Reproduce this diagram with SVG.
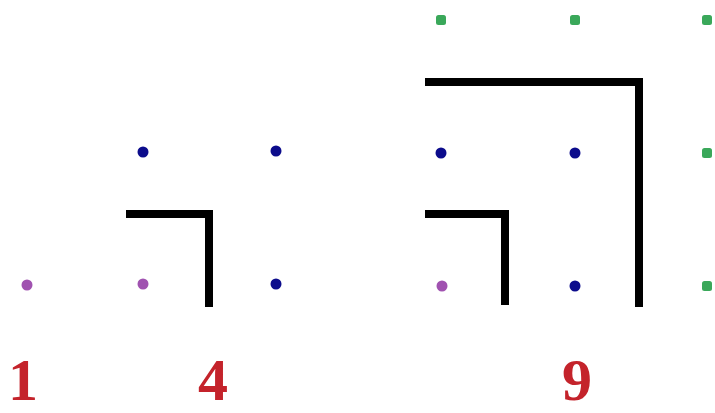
<svg xmlns="http://www.w3.org/2000/svg" width="715" height="413" viewBox="0 0 715 413">
<style>
.p{fill:#a052b0}
.b{fill:#0c0c8c}
.g{fill:#3aa85a}
.l{fill:none;stroke:#000;stroke-width:8;stroke-linecap:butt;stroke-linejoin:miter}
.t{font-family:"Liberation Serif",serif;font-size:60px;font-weight:bold;fill:#c4232b;text-anchor:middle}
</style>
<rect width="715" height="413" fill="#fff"/>
<g id="dots">
<circle class="p" cx="27" cy="285" r="5.5"/>
<circle class="p" cx="143" cy="284" r="5.5"/>
<circle class="p" cx="442" cy="286" r="5.5"/>
<circle class="b" cx="143" cy="152" r="5.5"/>
<circle class="b" cx="276" cy="151" r="5.5"/>
<circle class="b" cx="276" cy="284" r="5.5"/>
<circle class="b" cx="441" cy="153" r="5.5"/>
<circle class="b" cx="575" cy="153" r="5.5"/>
<circle class="b" cx="575" cy="286" r="5.5"/>
<rect class="g" x="436" y="15" width="10" height="10" rx="2.5"/>
<rect class="g" x="570" y="15" width="10" height="10" rx="2.5"/>
<rect class="g" x="702" y="15" width="10" height="10" rx="2.5"/>
<rect class="g" x="702" y="148" width="10" height="10" rx="2.5"/>
<rect class="g" x="702" y="281" width="10" height="10" rx="2.5"/>
</g>
<g id="connectors">
<polyline class="l" points="126,214 209,214 209,307"/>
<polyline class="l" points="425,214 505,214 505,305"/>
<polyline class="l" points="425,82 639,82 639,307"/>
</g>
<g id="labels">
<text class="t" x="23" y="400">1</text>
<text class="t" x="213" y="400">4</text>
<text class="t" x="577" y="400">9</text>
</g>
</svg>
